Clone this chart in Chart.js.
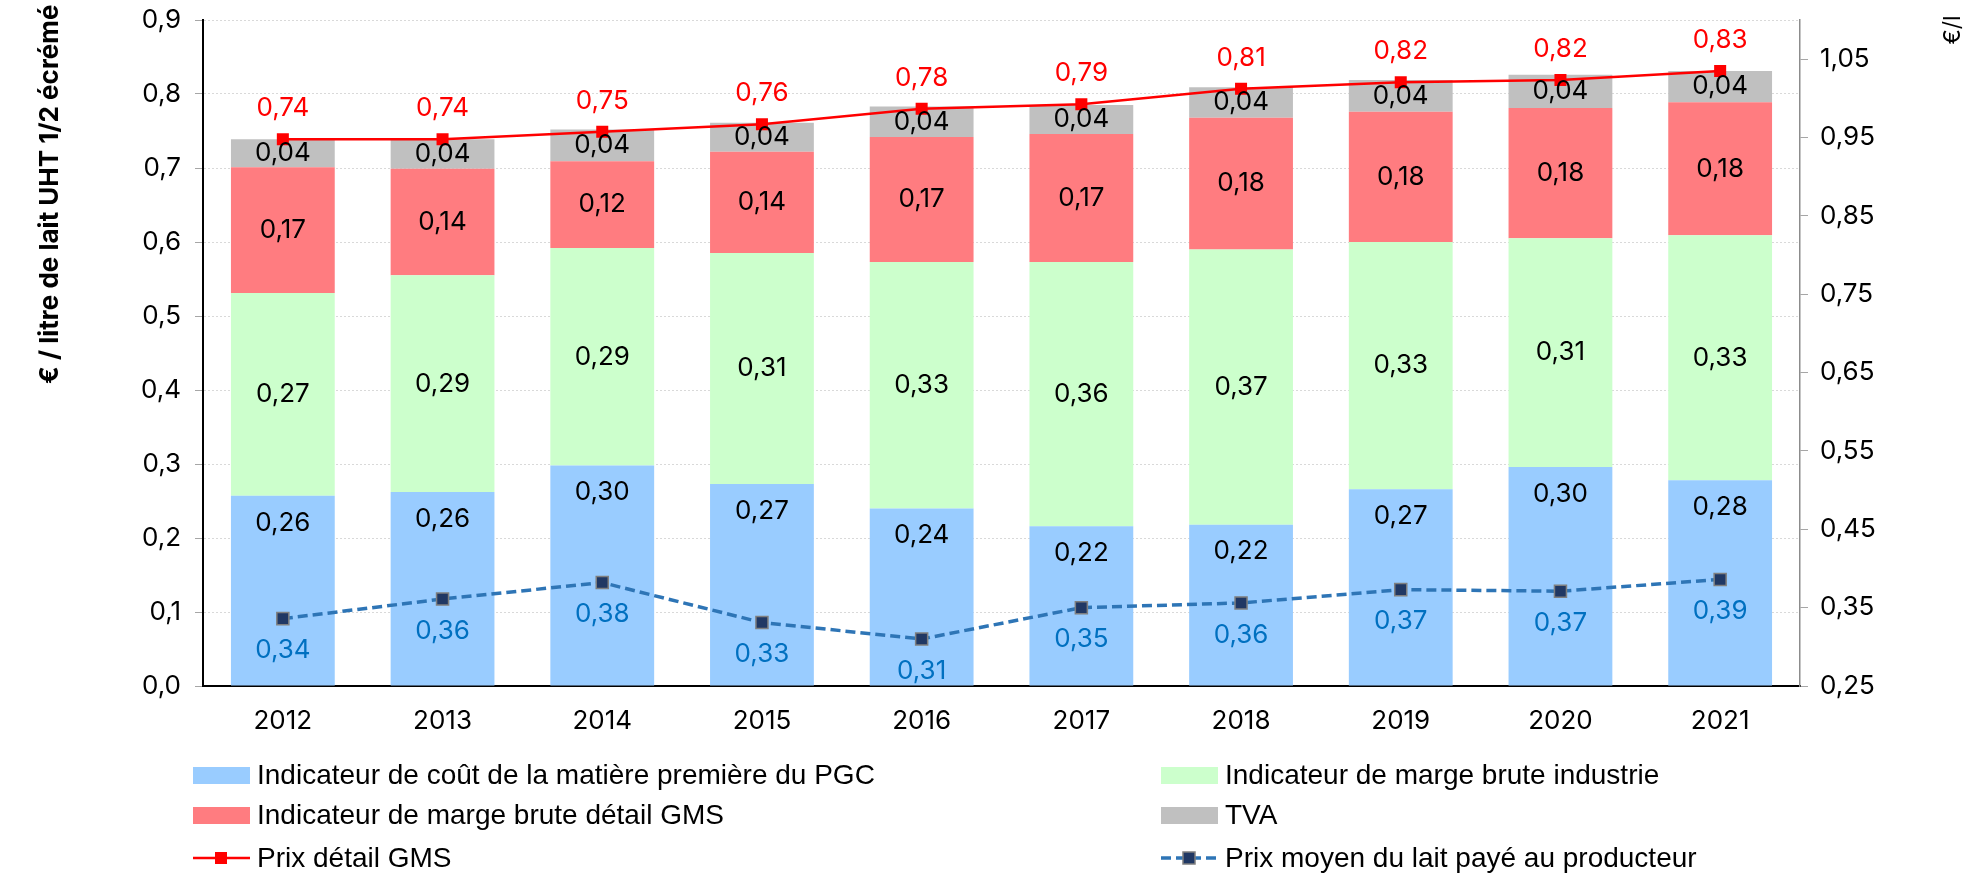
<!DOCTYPE html>
<html lang="fr">
<head>
<meta charset="utf-8">
<script src="https://cdn.jsdelivr.net/npm/chart.js@4"></script>
<style>
  html, body { margin: 0; padding: 0; background: #fff; }
  #wrap { position: relative; width: 1988px; height: 881px; }
  #chart { position: absolute; left: 0; top: 0; }
  #legend { position: absolute; left: 0; top: 0; width: 1988px; height: 881px; pointer-events: none;
            font-family: 'Liberation Sans', Arial, sans-serif; font-size: 28px; color: #000; }
  .item { position: absolute; display: flex; align-items: center; height: 30px; white-space: nowrap; }
  .item canvas { margin-right: 7px; }
</style>
</head>
<body>
<div id="wrap">
  <canvas id="chart" width="1988" height="881"></canvas>
  <div id="legend"></div>
</div>
<script>
const years = ['2012', '2013', '2014', '2015', '2016', '2017', '2018', '2019', '2020', '2021'];

const matierePremiere = [0.257, 0.262, 0.298, 0.273, 0.240, 0.216, 0.218, 0.266, 0.296, 0.278];
const margeIndustrie  = [0.274, 0.293, 0.294, 0.312, 0.333, 0.357, 0.372, 0.334, 0.309, 0.331];
const margeDetail     = [0.170, 0.144, 0.117, 0.137, 0.169, 0.173, 0.178, 0.176, 0.176, 0.180];
const tva             = [0.038, 0.040, 0.043, 0.039, 0.041, 0.039, 0.041, 0.043, 0.045, 0.042];
const prixDetail      = [0.739, 0.739, 0.749, 0.759, 0.780, 0.786, 0.807, 0.816, 0.819, 0.831];
const prixProducteur  = [0.336, 0.361, 0.382, 0.331, 0.310, 0.350, 0.356, 0.373, 0.371, 0.386];

const leftTicks  = [0, 0.1, 0.2, 0.3, 0.4, 0.5, 0.6, 0.7, 0.8, 0.9];
const rightTicks = [0.25, 0.35, 0.45, 0.55, 0.65, 0.75, 0.85, 0.95, 1.05];

const fr = (v, d) => v.toFixed(d).replace('.', ',');
const FONT = 'Inter, "DejaVu Sans", sans-serif';

// étiquettes de valeurs + titres d'axes
const valueLabels = {
  id: 'valueLabels',
  afterDatasetsDraw(chart) {
    const ctx = chart.ctx;
    ctx.save();
    ctx.font = '26px ' + FONT;
    ctx.textAlign = 'center';
    ctx.textBaseline = 'middle';
    chart.data.datasets.forEach((ds, i) => {
      const meta = chart.getDatasetMeta(i);
      meta.data.forEach((el, j) => {
        const txt = fr(ds.data[j], 2);
        if (ds.type === 'line') {
          ctx.fillStyle = ds.labelColor;
          ctx.fillText(txt, el.x, el.y + ds.labelOffset);
        } else {
          const p = el.getProps(['x', 'y', 'base'], true);
          ctx.fillStyle = '#000';
          // premier segment : étiquette en haut de la barre (intérieur)
          const y = i === 0 ? p.y + 27 : (p.y + p.base) / 2;
          ctx.fillText(txt, p.x, y);
        }
      });
    });
    ctx.restore();
  },
  afterDraw(chart) {
    const ctx = chart.ctx;
    ctx.save();
    ctx.fillStyle = '#000';
    ctx.textBaseline = 'middle';
    ctx.font = 'bold 26px ' + FONT;
    ctx.translate(50, 384);
    ctx.rotate(-Math.PI / 2);
    ctx.textAlign = 'left';
    ctx.fillText('€ / litre de lait UHT 1/2 écrémé', 0, 0);
    ctx.restore();
    ctx.save();
    ctx.fillStyle = '#000';
    ctx.textBaseline = 'middle';
    ctx.font = '23px ' + FONT;
    ctx.translate(1953, 30);
    ctx.rotate(-Math.PI / 2);
    ctx.textAlign = 'center';
    ctx.fillText('€/l', 0, 0);
    ctx.restore();
  }
};

const noEdgePadding = scale => { scale.paddingTop = 0; scale.paddingBottom = 0; };

const chart = new Chart(document.getElementById('chart'), {
  data: {
    labels: years,
    datasets: [
      { type: 'bar', label: 'Indicateur de coût de la matière première du PGC', data: matierePremiere,
        backgroundColor: '#99CCFF', stack: 'bars', order: 2 },
      { type: 'bar', label: 'Indicateur de marge brute industrie', data: margeIndustrie,
        backgroundColor: '#CCFFCC', stack: 'bars', order: 2 },
      { type: 'bar', label: 'Indicateur de marge brute détail GMS', data: margeDetail,
        backgroundColor: '#FF7C80', stack: 'bars', order: 2 },
      { type: 'bar', label: 'TVA', data: tva,
        backgroundColor: '#C0C0C0', stack: 'bars', order: 2 },
      { type: 'line', label: 'Prix détail GMS', data: prixDetail, yAxisID: 'y', stack: 'prix',
        borderColor: '#FF0000', borderWidth: 2.5, pointStyle: 'rect', pointRadius: 8.5,
        pointBackgroundColor: '#FF0000', pointBorderColor: '#FF0000', pointBorderWidth: 0,
        labelColor: '#FF0000', labelOffset: -31, order: 0 },
      { type: 'line', label: 'Prix moyen du lait payé au producteur', data: prixProducteur, yAxisID: 'y2',
        borderColor: '#2E75B6', borderWidth: 3.5, borderDash: [10, 5], pointStyle: 'rect', pointRadius: 8.5,
        pointBackgroundColor: '#203864', pointBorderColor: '#7F7F7F', pointBorderWidth: 1.5,
        labelColor: '#0070C0', labelOffset: 32, order: 1 }
    ]
  },
  options: {
    responsive: false,
    animation: false,
    layout: { padding: { top: 20, left: 0, right: 0, bottom: 0 } },
    datasets: { bar: { categoryPercentage: 1, barPercentage: 0.65 } },
    scales: {
      x: {
        stacked: true,
        grid: { display: false, drawTicks: false },
        border: { color: '#000', width: 2 },
        ticks: { color: '#000', font: { family: FONT, size: 26 }, padding: 20 },
        afterFit(scale) { scale.height = 195; }
      },
      y: {
        stacked: true,
        position: 'left',
        min: 0, max: 0.9,
        afterBuildTicks(scale) { scale.ticks = leftTicks.map(v => ({ value: v })); },
        grid: { color: '#D9D9D9', tickColor: '#A6A6A6', tickLength: 8, lineWidth: 1 },
        border: { color: '#000', width: 2, dash: [2, 2] },
        ticks: { color: '#000', font: { family: FONT, size: 26 }, padding: 14,
                 callback: v => fr(v, 1) },
        afterFit(scale) { scale.width = 203; noEdgePadding(scale); }
      },
      y2: {
        position: 'right',
        min: 0.25, max: 1.1,
        afterBuildTicks(scale) { scale.ticks = rightTicks.map(v => ({ value: v })); },
        grid: { drawOnChartArea: false, tickColor: '#A6A6A6', tickLength: 8 },
        border: { color: '#8C8C8C', width: 1.5 },
        ticks: { color: '#000', font: { family: FONT, size: 26 }, padding: 12,
                 callback: v => fr(v, 2) },
        afterFit(scale) { scale.width = 188; noEdgePadding(scale); }
      }
    },
    plugins: {
      legend: { display: false },
      tooltip: { enabled: false }
    }
  },
  plugins: [valueLabels]
});

// légende HTML sur deux colonnes
const legendSlots = [
  { ds: 0, x: 193, y: 775 }, { ds: 1, x: 1161, y: 775 },
  { ds: 2, x: 193, y: 815 }, { ds: 3, x: 1161, y: 815 },
  { ds: 4, x: 193, y: 858 }, { ds: 5, x: 1161, y: 858 }
];
const legendEl = document.getElementById('legend');
legendSlots.forEach(slot => {
  const ds = chart.data.datasets[slot.ds];
  const item = document.createElement('div');
  item.className = 'item';
  item.style.left = slot.x + 'px';
  item.style.top = (slot.y - 15) + 'px';
  const sw = document.createElement('canvas');
  sw.width = 57; sw.height = 30;
  const c = sw.getContext('2d');
  if (ds.type === 'bar') {
    c.fillStyle = ds.backgroundColor;
    c.fillRect(0, 7, 57, 17);
  } else {
    c.strokeStyle = ds.borderColor;
    c.lineWidth = ds.borderWidth;
    c.setLineDash(ds.borderDash || []);
    c.beginPath(); c.moveTo(0, 15); c.lineTo(57, 15); c.stroke();
    c.setLineDash([]);
    c.fillStyle = ds.pointBackgroundColor;
    c.fillRect(22, 9, 12, 12);
    if (ds.pointBorderWidth) {
      c.strokeStyle = ds.pointBorderColor; c.lineWidth = ds.pointBorderWidth;
      c.strokeRect(22, 9, 12, 12);
    }
  }
  item.appendChild(sw);
  const t = document.createElement('span');
  t.textContent = ds.label;
  item.appendChild(t);
  legendEl.appendChild(item);
});
</script>
</body>
</html>
